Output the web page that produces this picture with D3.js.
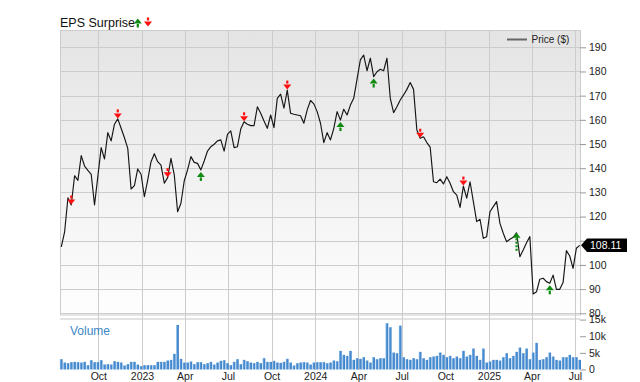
<!DOCTYPE html>
<html>
<head>
<meta charset="utf-8">
<script src="https://cdn.jsdelivr.net/npm/d3@7"></script>
<style>
  body { margin: 0; background: #fff; }
  svg { display: block; font-family: "Liberation Sans", Arial, sans-serif; }
</style>
</head>
<body>
<svg class="chart"></svg>
<script>
let width = 640
let height = 382

// weekly closes, first week ending 2022-07-15
let firstWeek = "2022-07-15"
let prices = [
  107.5, 113.7, 127.8, 124.8, 136.9, 135, 145.2, 140.9, 139.1, 137.5,
  124.8, 136.6, 148.5, 143.8, 154.7, 151.3, 158.2, 160.4, 156.5, 152.6,
  148.2, 131.4, 132.8, 139.7, 137.5, 128.2, 135.1, 142.7, 146, 142.7,
  141.3, 133.8, 136.1, 144.1, 137.2, 122, 125.5, 134.8, 139.3, 144.8,
  142.4, 142, 139.3, 143, 147.1, 148.9, 149.9, 151.3, 151.7, 147.1,
  154, 155.4, 148.5, 148.9, 156.2, 159.2, 158.2, 157.6, 157.6, 165.4,
  162.7, 159.5, 156.5, 162, 156.8, 168.9, 170.6, 164.8, 172.3, 162.7,
  162.3, 162, 161.7, 158.6, 164.1, 168, 166.6, 163.4, 158.6, 150.6,
  154.7, 151.7, 156.5, 163.4, 159.9, 164.4, 162, 166.1, 168.9, 176.8,
  184.8, 186.8, 180.3, 185.5, 177.9, 179.9, 180.9, 180.3, 185.5, 168.9,
  163, 165.4, 168.2, 170.3, 172.6, 175.4, 172.6, 155.8, 152.4, 153,
  150.6, 148.7, 134.4, 134, 135.5, 133.5, 136.5, 133.8, 130.3, 128.9,
  123.8, 132.6, 127.6, 134.4, 126.2, 117.9, 118.9, 111, 111.7, 122,
  124.1, 126.2, 117.2, 113.1, 109.6, 110.6, 111.4, 113.3, 103.4, 106.2,
  109.2, 111.7, 88, 88.9, 94.1, 94.5, 93.1, 92.4, 95.8, 89.9,
  89.9, 92.7, 105.9, 103.7, 98.6, 106.9, 108.11
]

// weekly volume, thousands
let volumes = [
  3.1, 2.1, 1.9, 2.2, 2.3, 2.2, 2.1, 2.3, 1.3, 2.8,
  2.2, 2.2, 2.8, 1.5, 1.6, 1.5, 2.5, 2.3, 2.1, 1.2,
  1.6, 2.3, 2.3, 1.5, 1.0, 1.3, 1.3, 1.3, 1.3, 2.3,
  2.3, 2.3, 2.7, 2.9, 4.7, 13.4, 3.2, 2.1, 2.1, 2.4,
  1.6, 2.2, 2.2, 1.6, 1.9, 2.3, 1.5, 2.1, 2.6, 2.8,
  1.9, 1.3, 2.3, 3.1, 1.6, 2.9, 2.5, 2.1, 1.9, 2.3,
  1.9, 3.4, 2.3, 2.3, 2.6, 2.1, 2.0, 2.3, 3.2, 2.1,
  1.2, 1.9, 2.1, 2.2, 2.1, 1.5, 2.1, 2.2, 2.2, 2.2,
  1.9, 2.1, 2.7, 2.5, 5.6, 4.4, 4.1, 5.6, 2.9, 3.4,
  3.2, 3.7, 2.7, 2.1, 3.7, 3.1, 3.4, 3.4, 13.9, 12.7,
  5.1, 4.9, 13.2, 3.7, 3.1, 2.9, 3.4, 3.1, 5.3, 3.4,
  2.9, 3.7, 3.9, 4.1, 5.1, 4.4, 3.7, 4.1, 3.4, 3.9,
  3.4, 5.6, 3.9, 4.4, 6.3, 4.1, 2.9, 6.3, 2.1, 2.4,
  2.9, 2.9, 2.7, 3.7, 4.9, 3.4, 4.1, 5.3, 6.6, 4.9,
  6.3, 3.1, 5.1, 8.0, 2.9, 3.1, 3.7, 5.1, 3.9, 2.9,
  2.7, 3.7, 3.7, 4.4, 3.7, 3.7, 2.9
]

// week index of each earnings report
let beatWeeks = [42, 84, 94, 137, 147]
let missWeeks = [3, 17, 32, 55, 68, 108, 121]

let priceTicks = [80, 90, 100, 110, 120, 130, 140, 150, 160, 170, 180, 190]
let volumeTicks = [0, 5, 10, 15]

let parse = d3.timeParse("%Y-%m-%d")
let weeks = prices.map((p, i) => d3.timeWeek.offset(parse(firstWeek), i))

let svg = d3.select(".chart")
  .attr("width", width)
  .attr("height", height)

let plotLeft = 60
let plotRight = 580
let priceTop = 30
let priceBottom = 314.5
let volTop = 318
let volBottom = 370

let x = d3.scaleTime()
  .domain([weeks[0], weeks[weeks.length - 1]])
  .range([61.3, 579.7])

let y = d3.scaleLinear()
  .domain([80, 190])
  .range([313.3, 47.3])

let yVol = d3.scaleLinear()
  .domain([0, 15])
  .range([369.5, 319.6])

let lastPrice = prices[prices.length - 1]
let lastY = y(lastPrice)

let defs = svg.append("defs")
let bg = defs.append("linearGradient")
  .attr("id", "bg")
  .attr("x1", 0).attr("y1", 0).attr("x2", 0).attr("y2", 1)
bg.append("stop").attr("offset", "0%").attr("stop-color", "#e4e4e4")
bg.append("stop").attr("offset", "100%").attr("stop-color", "#fefefe")

let barFill = defs.append("linearGradient")
  .attr("id", "bar")
  .attr("x1", 0).attr("y1", 0).attr("x2", 1).attr("y2", 0)
barFill.append("stop").attr("offset", "0%").attr("stop-color", "#8dbbe8")
barFill.append("stop").attr("offset", "45%").attr("stop-color", "#4a8ed2")
barFill.append("stop").attr("offset", "100%").attr("stop-color", "#3b7fc6")

// panes
svg.append("rect")
  .attr("x", plotLeft + 0.5)
  .attr("y", priceTop + 0.5)
  .attr("width", plotRight - plotLeft)
  .attr("height", priceBottom - priceTop)
  .attr("fill", "url(#bg)")
  .attr("stroke", "#cccccc")

svg.append("rect")
  .attr("x", plotLeft)
  .attr("y", volTop)
  .attr("width", plotRight - plotLeft + 0.5)
  .attr("height", 2)
  .attr("fill", "#e2e2e2")

// grid
let monthTicks = x.ticks(d3.timeMonth.every(3))

svg.append("g")
  .selectAll("line")
  .data(priceTicks)
  .enter()
  .append("line")
  .attr("x1", plotLeft)
  .attr("x2", plotRight)
  .attr("y1", d => Math.round(y(d)) + 0.5)
  .attr("y2", d => Math.round(y(d)) + 0.5)
  .attr("stroke", "#cccccc")

svg.append("g")
  .selectAll("line")
  .data(monthTicks)
  .enter()
  .append("line")
  .attr("x1", d => Math.round(x(d)) + 0.5)
  .attr("x2", d => Math.round(x(d)) + 0.5)
  .attr("y1", priceTop)
  .attr("y2", volBottom)
  .attr("stroke", "#cccccc")

// volume bars
svg.append("g")
  .selectAll("rect")
  .data(volumes)
  .enter()
  .append("rect")
  .attr("x", (d, i) => x(weeks[i]) - 1.4)
  .attr("width", 2.7)
  .attr("y", d => yVol(d))
  .attr("height", d => yVol(0) - yVol(d))
  .attr("fill", "url(#bar)")

svg.append("text")
  .attr("x", 70)
  .attr("y", 334.5)
  .attr("font-size", 12)
  .attr("fill", "#3d87c9")
  .text("Volume")

// price line
let line = d3.line()
  .x((d, i) => x(weeks[i]))
  .y(d => y(d))

svg.append("path")
  .datum(prices)
  .attr("d", line)
  .attr("fill", "none")
  .attr("stroke", "#151515")
  .attr("stroke-width", 1.15)
  .attr("stroke-linejoin", "round")

// EPS arrows
function downArrow(g, cx, ty, color) {
  g.append("path")
    .attr("d", `M${cx - 4},${ty - 5}L${cx + 4},${ty - 5}L${cx},${ty}Z`)
    .attr("fill", color)
  g.append("rect")
    .attr("x", cx - 1.1).attr("y", ty - 9)
    .attr("width", 2.2).attr("height", 3)
    .attr("fill", color)
}

function upArrow(g, cx, ty, color, stem, dashed) {
  g.append("path")
    .attr("d", `M${cx},${ty}L${cx - 4},${ty + 5}L${cx + 4},${ty + 5}Z`)
    .attr("fill", color)
  g.append("line")
    .attr("x1", cx).attr("x2", cx)
    .attr("y1", ty + 5.5).attr("y2", ty + 5.5 + stem)
    .attr("stroke", color)
    .attr("stroke-width", 2.2)
    .attr("stroke-dasharray", dashed ? "2,1.5" : null)
}

let arrows = svg.append("g")
missWeeks.forEach(i => downArrow(arrows, x(weeks[i]), y(prices[i]) - 0.5, "#ff1010"))
beatWeeks.forEach(i => {
  if (i === 137) upArrow(arrows, x(weeks[i]), y(prices[i]), "#108a10", 13, true)
  else upArrow(arrows, x(weeks[i]), y(prices[i]) + 2, "#108a10", 3.5, false)
})

// axes
let priceAxis = svg.append("g")
  .attr("transform", `translate(${plotRight},0)`)
  .call(d3.axisRight(y).tickValues(priceTicks).tickSize(6).tickPadding(3))

// the last-price tag covers the nearest price label
priceAxis.selectAll(".tick")
  .filter(d => Math.abs(y(d) - lastY) < 9)
  .select("text")
  .remove()

let volAxis = svg.append("g")
  .attr("transform", `translate(${plotRight},0)`)
  .call(d3.axisRight(yVol).tickValues(volumeTicks).tickSize(6).tickPadding(3)
    .tickFormat(d => d ? d + "k" : "0"))

let timeAxis = svg.append("g")
  .attr("transform", `translate(0,${volBottom})`)
  .call(d3.axisBottom(x).tickValues(monthTicks).tickSize(0).tickPadding(3)
    .tickFormat(d => d.getMonth() === 0 ? d3.timeFormat("%Y")(d) : d3.timeFormat("%b")(d)))

;[priceAxis, volAxis, timeAxis].forEach(a => {
  a.select(".domain").remove()
  a.selectAll(".tick line").attr("stroke", "#999999")
  a.selectAll("text")
    .attr("font-size", 10.5)
    .attr("font-family", "\"Liberation Sans\", Arial, sans-serif")
    .attr("fill", "#222222")
})

// last price tag
svg.append("path")
  .attr("d", `M581,${lastY}L587,${lastY - 6.7}L627,${lastY - 6.7}L627,${lastY + 6.7}L587,${lastY + 6.7}Z`)
  .attr("fill", "#000000")
svg.append("text")
  .attr("x", 590)
  .attr("y", lastY + 3.8)
  .attr("font-size", 10.5)
  .attr("fill", "#ffffff")
  .text(lastPrice.toFixed(2))

// title and legend
svg.append("text")
  .attr("x", 60)
  .attr("y", 27)
  .attr("font-size", 12.5)
  .attr("fill", "#111111")
  .text("EPS Surprise")

let titleIcons = svg.append("g")
upArrow(titleIcons, 137.8, 18.5, "#108a10", 3.5, false)
downArrow(titleIcons, 148, 26.5, "#ff1010")

svg.append("line")
  .attr("x1", 507).attr("x2", 527)
  .attr("y1", 39.5).attr("y2", 39.5)
  .attr("stroke", "#666666")
  .attr("stroke-width", 2)

svg.append("text")
  .attr("x", 531.5)
  .attr("y", 43)
  .attr("font-size", 10)
  .attr("fill", "#222222")
  .text("Price ($)")
</script>
</body>
</html>
